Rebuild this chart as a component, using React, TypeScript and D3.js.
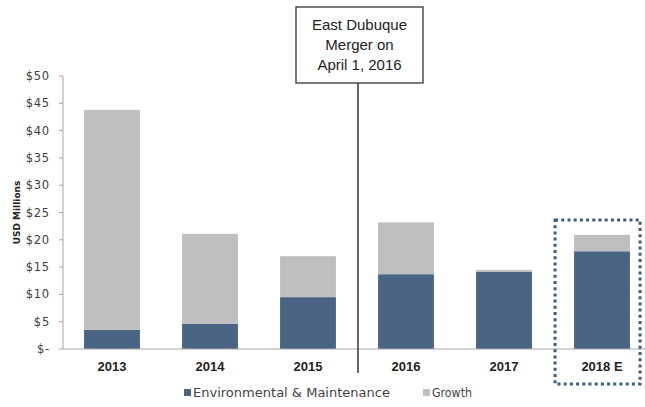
import React from "react";
import * as d3 from "d3";

const categories = ["2013", "2014", "2015", "2016", "2017", "2018 E"];
const envMaint = [3.5, 4.6, 9.5, 13.7, 14.1, 17.9];
const growth = [40.3, 16.5, 7.5, 9.5, 0.4, 3.0];
const yTicks = [0, 5, 10, 15, 20, 25, 30, 35, 40, 45, 50];
const seriesNames = ["Environmental & Maintenance", "Growth"];
const colors = ["#4a6484", "#bfbfbf"];

export default function App() {
  const W = 645, H = 407;
  const left = 63, top = 76, bottom = 349;
  const x = d3.scaleBand<string>().domain(categories).range([left, left + 98 * 6]).paddingInner(0.43).paddingOuter(0.215);
  const y = d3.scaleLinear().domain([0, 50]).range([bottom, top]);
  const font = "'Liberation Sans', Arial, sans-serif";
  const wide = "'DejaVu Sans', Verdana, sans-serif";
  const stacked = categories.map((c, i) => ({ c, e: envMaint[i], g: growth[i] }));
  const divX = 358;
  const last = categories[categories.length - 1];
  const lx = x(last)!;
  const legendPos = [{ x: 184, w: 197 }, { x: 423, w: 40 }];
  return (
    <svg width={W} height={H} style={{ position: "absolute", left: 0, top: 0 }}>
      <rect width={W} height={H} fill="#fff" />
      {stacked.map((d) => (
        <g key={d.c}>
          <rect x={x(d.c)} y={y(d.e)} width={x.bandwidth()} height={y(0) - y(d.e)} fill={colors[0]} />
          <rect x={x(d.c)} y={y(d.e + d.g)} width={x.bandwidth()} height={y(d.e) - y(d.e + d.g)} fill={colors[1]} />
        </g>
      ))}
      <line x1={left} x2={left} y1={top} y2={bottom} stroke="#a6a6a6" strokeWidth={1} />
      <line x1={left} x2={W} y1={bottom} y2={bottom} stroke="#a6a6a6" strokeWidth={1} />
      {yTicks.map((t) => (
        <g key={t}>
          <line x1={left - 4} x2={left} y1={y(t)} y2={y(t)} stroke="#a6a6a6" />
          <text x={50} y={y(t)} dy="0.35em" textAnchor="end" fontFamily={wide} fontSize={11.5} fill="#404040" letterSpacing={0.8}>
            {t === 0 ? "$-" : `$${t}`}
          </text>
        </g>
      ))}
      <text transform={`translate(20,${(top + bottom) / 2}) rotate(-90)`} textAnchor="middle" fontFamily={wide} fontSize={9} fontWeight="bold" fill="#222">
        USD Millions
      </text>
      {categories.map((c) => (
        <text key={c} x={x(c)! + x.bandwidth() / 2} y={371} textAnchor="middle" fontFamily={font} fontSize={13} fontWeight="bold" fill="#222">
          {c}
        </text>
      ))}
      <line x1={divX} x2={divX} y1={83} y2={373} stroke="#333" strokeWidth={1.5} />
      <rect x={296} y={7} width={127} height={76} fill="#fff" stroke="#333" strokeWidth={1.3} />
      {["East Dubuque", "Merger on", "April 1, 2016"].map((s, i) => (
        <text key={s} x={359.5} y={30 + i * 20} textAnchor="middle" fontFamily={font} fontSize={15} fill="#222">
          {s}
        </text>
      ))}
      <rect x={lx - 19} y={220} width={85} height={164} fill="none" stroke="#3d5a80" strokeWidth={3} strokeDasharray="3,3.2" />
      {seriesNames.map((s, i) => {
        const p = legendPos[i];
        return (
          <g key={s}>
            <rect x={p.x} y={389} width={7} height={7} fill={colors[i]} />
            <text x={p.x + 9} y={397} fontFamily={wide} fontSize={11.5} fill="#444" textLength={p.w} lengthAdjust="spacingAndGlyphs">{s}</text>
          </g>
        );
      })}
    </svg>
  );
}
